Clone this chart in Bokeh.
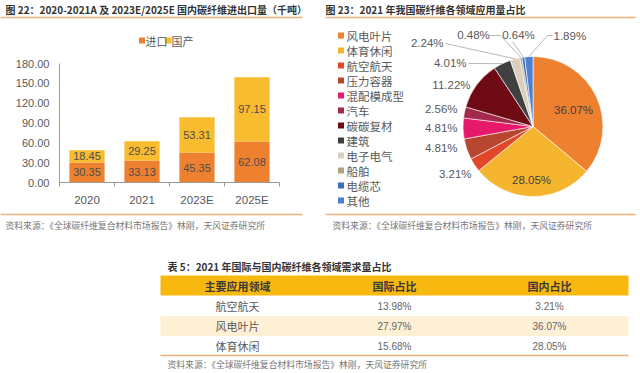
import numpy as np
from bokeh.plotting import figure
from bokeh.models import Range1d, FixedTicker
from bokeh.layouts import column, row
from bokeh.embed import file_html
from bokeh.resources import INLINE
from bokeh.core.properties import value

# ---------------- data ----------------
years = ["2020", "2021", "2023E", "2025E"]
imports_kt = [30.35, 33.13, 45.35, 62.08]
domestic_kt = [18.45, 29.25, 53.31, 97.15]
bar_series = ["进口", "国产"]
y_ticks = [0, 30, 60, 90, 120, 150, 180]
y_tick_labels = ["0.00", "30.00", "60.00", "90.00", "120.00", "150.00", "180.00"]

sectors = ["风电叶片", "体育休闲", "航空航天", "压力容器", "混配模成型", "汽车",
           "碳碳复材", "建筑", "电子电气", "船舶", "电缆芯", "其他"]
sector_share = [36.07, 28.05, 3.21, 4.81, 4.81, 2.56, 11.22, 4.01, 2.24, 0.48, 0.64, 1.89]

table_columns = ["主要应用领域", "国际占比", "国内占比"]
table_fields = ["航空航天", "风电叶片", "体育休闲"]
table_intl = ["13.98%", "27.97%", "15.68%"]
table_domestic = ["3.21%", "36.07%", "28.05%"]

title_left = "图 22：2020-2021A 及 2023E/2025E 国内碳纤维进出口量（千吨）"
title_right = "图 23：2021 年我国碳纤维各领域应用量占比"
title_table = "表 5：2021 年国际与国内碳纤维各领域需求量占比"
source_text = "资料来源：《全球碳纤维复合材料市场报告》林刚，天风证券研究所"

# ---------------- styles ----------------
CJK = value("Noto Sans CJK SC")
LAT = value("Liberation Sans")
ORANGE = "#EE8130"
YELLOW = "#F9BC2F"
RULE = "#EDB27C"
GREY_TXT = "#595959"
pie_colors = ["#EE8130", "#F6B52E", "#E2472A", "#B8452E", "#E8186A", "#A32A4C",
              "#6E0A14", "#404040", "#D9CFBC", "#B4A17C", "#3C6EC2", "#4C80D0"]


def canvas(x0, x1, y0, y1):
    p = figure(width=x1 - x0, height=y1 - y0,
               x_range=Range1d(start=x0, end=x1), y_range=Range1d(start=y1, end=y0),
               x_axis_location=None, y_axis_location=None,
               toolbar_location=None, output_backend="svg", min_border=0,
               outline_line_color=None, background_fill_color="white",
               border_fill_color="white")
    p.grid.visible = False
    return p


# ---------------- header strip ----------------
head = canvas(0, 640, 0, 22)
head.text(x=[5, 325], y=[8.5, 8.5], text=[title_left, title_right], text_font=CJK,
          text_font_size="10px", text_font_style="bold", text_color="#333333",
          text_baseline="middle", text_align="left")
head.segment(x0=[0, 325], y0=[17, 17], x1=[302, 635], y1=[17, 17],
             line_color=RULE, line_width=1.5)

# ---------------- bar legend strip ----------------
leg = canvas(0, 320, 22, 48)
leg.scatter(x=[120, 158.5], y=[40, 40], marker="square", size=6,
            fill_color=[ORANGE, YELLOW], line_color=None)
leg.text(x=[125, 163], y=[40, 40], text=bar_series, text_font=CJK, text_font_size="11px",
         text_color=GREY_TXT, text_baseline="middle", text_align="left")

# ---------------- bar chart ----------------
bar = figure(width=320, height=160, x_range=Range1d(0, 4), y_range=Range1d(0, 180),
             toolbar_location=None, output_backend="svg",
             min_border_left=59, min_border_right=41, min_border_top=15, min_border_bottom=25,
             outline_line_color=None, background_fill_color="white", border_fill_color="white")
bar.grid.visible = False
imp = np.array(imports_kt)
dom = np.array(domestic_kt)
xc = np.arange(len(years)) + 0.5
bar.vbar(x=xc, width=0.64, bottom=0, top=imp, fill_color=ORANGE, line_color=None)
bar.vbar(x=xc, width=0.64, bottom=imp, top=imp + dom, fill_color=YELLOW, line_color=None)
bar.text(x=xc, y=imp / 2, text=[f"{v:.2f}" for v in imp], text_font=LAT, text_font_size="11px",
         text_color="#4D4D4D", text_align="center", text_baseline="middle")
bar.text(x=xc, y=imp + dom / 2, text=[f"{v:.2f}" for v in dom], text_font=LAT,
         text_font_size="11px", text_color="#4D4D4D", text_align="center", text_baseline="middle")

xa = bar.xaxis[0]
xa.ticker = FixedTicker(ticks=[float(v) for v in xc], minor_ticks=list(range(len(years) + 1)))
xa.major_label_overrides = {float(v): lab for v, lab in zip(xc, years)}
xa.major_tick_in = 0
xa.major_tick_out = 0
xa.minor_tick_in = 0
xa.minor_tick_out = 4
xa.minor_tick_line_color = "#999999"
xa.axis_line_color = "#999999"
xa.major_label_text_font = "Liberation Sans"
xa.major_label_text_font_size = "11.5px"
xa.major_label_text_color = GREY_TXT
xa.major_label_standoff = 7

ya = bar.yaxis[0]
ya.ticker = FixedTicker(ticks=y_ticks)
ya.major_label_overrides = {t: lab for t, lab in zip(y_ticks, y_tick_labels)}
ya.major_tick_in = 0
ya.major_tick_out = 0
ya.minor_tick_out = 0
ya.axis_line_color = "#999999"
ya.major_label_text_font = "Liberation Sans"
ya.major_label_text_font_size = "11px"
ya.major_label_text_color = GREY_TXT
ya.major_label_standoff = 10

# ---------------- pie chart ----------------
pie = figure(width=320, height=186, x_range=Range1d(320, 640), y_range=Range1d(0, 186),
             x_axis_location=None, y_axis_location=None, toolbar_location=None,
             output_backend="svg", min_border=0, outline_line_color=None,
             background_fill_color="white", border_fill_color="white")
pie.grid.visible = False


def PY(v):
    return 208 - v


cx, cy, R = 532.5, PY(126), 70
share = np.array(sector_share)
frac = share / share.sum()
cum = np.concatenate([[0], np.cumsum(frac)])
start = np.pi / 2 - 2 * np.pi * cum[1:]
end = np.pi / 2 - 2 * np.pi * cum[:-1]
mid = (start + end) / 2
pie.wedge(x=cx, y=cy, radius=R, start_angle=start, end_angle=end, direction="anticlock",
          fill_color=pie_colors, line_color="white", line_width=0.6)

# label placement (page coords) and alignment
label_pos = [(573, 109, "center"), (531, 179, "center"), (471, 173, "right"),
             (457, 147, "right"), (457, 127, "right"), (457, 108, "right"),
             (470, 84, "right"), (466, 62, "right"), (443, 42, "right"),
             (473, 34, "center"), (518, 34, "center"), (553, 35, "left")]
inside = [0, 1]
for i, (lx, ly, al) in enumerate(label_pos):
    pie.text(x=[lx], y=[PY(ly)], text=[f"{sector_share[i]:.2f}%"], text_font=LAT,
             text_font_size="11.5px", text_color="#404040" if i in inside else GREY_TXT,
             text_align=al, text_baseline="middle")

leader_pts = {7: [(468, 63)], 8: [(445, 43)], 9: [(489, 35), (500, 35)],
              10: [(512, 41)], 11: [(552, 35), (547, 35)]}
for i, pts in leader_pts.items():
    ex = cx + R * np.cos(mid[i])
    ey = cy + R * np.sin(mid[i])
    xs = [p[0] for p in pts] + [ex]
    ys = [PY(p[1]) for p in pts] + [ey]
    pie.line(x=xs, y=ys, line_color="#A6A6A6", line_width=0.8)

leg_y = [PY(35 + 15 * i) for i in range(len(sectors))]
pie.scatter(x=[340.5] * len(sectors), y=leg_y, marker="square", size=6,
            fill_color=pie_colors, line_color=None)
pie.text(x=[346] * len(sectors), y=leg_y, text=sectors, text_font=CJK,
         text_font_size="11.5px", text_color=GREY_TXT, text_baseline="middle", text_align="left")

# ---------------- footer strip ----------------
foot = canvas(0, 640, 208, 232)
foot.segment(x0=[0, 325], y0=[214, 214], x1=[302, 635], y1=[214, 214],
             line_color=RULE, line_width=1.5)
foot.text(x=[5, 332], y=[225, 225], text=[source_text, source_text], text_font=CJK,
          text_font_size="8.8px", text_color="#777777", text_baseline="middle", text_align="left")

# ---------------- table ----------------
tab = canvas(0, 640, 232, 373)
tab.text(x=[167], y=[266], text=[title_table], text_font=CJK, text_font_size="10px",
         text_font_style="bold", text_color="#333333", text_baseline="middle", text_align="left")
row_y = [305.5 + 20 * i for i in range(len(table_fields))]
tab.quad(left=[160], right=[628], top=[275], bottom=[295], fill_color="#F9B80F", line_color=None)
tab.quad(left=[160], right=[628], top=[row_y[1] - 10], bottom=[row_y[1] + 10],
         fill_color="#FDF0D5", line_color=None)
tab.segment(x0=[160], y0=[355], x1=[628], y1=[355], line_color="#F0B07A", line_width=1.5)
col_x = [237, 394, 549]
tab.text(x=col_x, y=[285] * 3, text=table_columns, text_font=CJK, text_font_size="11px",
         text_font_style="bold", text_color="#3A3A3A", text_align="center", text_baseline="middle")
tab.text(x=[col_x[0]] * 3, y=row_y, text=table_fields, text_font=CJK, text_font_size="11px",
         text_color=GREY_TXT, text_align="center", text_baseline="middle")
tab.text(x=[col_x[1]] * 3, y=row_y, text=table_intl, text_font=LAT, text_font_size="10px",
         text_color="#666666", text_align="center", text_baseline="middle")
tab.text(x=[col_x[2]] * 3, y=row_y, text=table_domestic, text_font=LAT, text_font_size="10px",
         text_color="#666666", text_align="center", text_baseline="middle")
tab.text(x=[167], y=[364], text=[source_text], text_font=CJK, text_font_size="8.8px",
         text_color="#777777", text_baseline="middle", text_align="left")

layout = column(head, row(column(leg, bar), pie), foot, tab)

open("out.html", "w").write(file_html(layout, INLINE))
